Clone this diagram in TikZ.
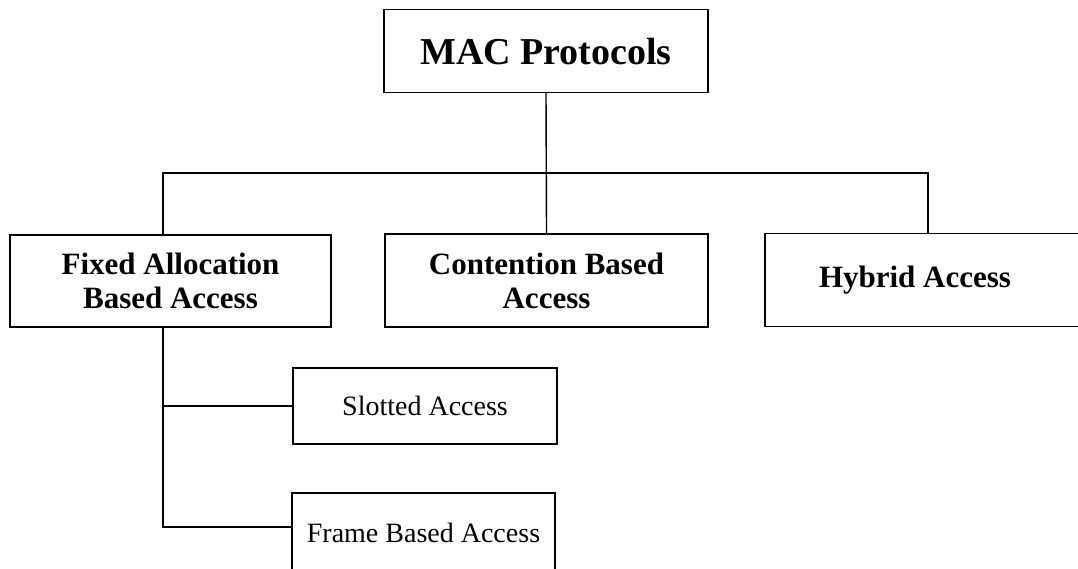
\documentclass[tikz,border=0pt]{standalone}
\usepackage{fontspec}
\setmainfont{Liberation Serif}
\begin{document}
\begin{tikzpicture}[x=1pt,y=-1pt,
  box/.style={draw=black, line width=1.4pt, inner sep=0pt, align=center},
  topbox/.style={box, font=\bfseries\fontsize{38}{42}\selectfont},
  midbox/.style={box, font=\bfseries\fontsize{31}{34}\selectfont},
  lowbox/.style={box, font=\fontsize{28}{32}\selectfont},
  link/.style={draw=black, line width=1.4pt}]
\useasboundingbox (0,0) rectangle (1078,568);
\clip (0,0) rectangle (1078,568);
\node[topbox, minimum width=324pt, minimum height=83pt] (mac) at (546,51) {MAC Protocols};
\node[midbox, minimum width=321pt, minimum height=92pt] (fixed) at (170.5,281) {Fixed Allocation\\Based Access};
\node[midbox, minimum width=323pt, minimum height=93pt] (cont) at (546.5,280.5) {Contention Based\\Access};
\node[midbox, minimum width=320pt, minimum height=93pt] (hyb) at (925,280) {\hspace*{-20pt}Hybrid Access};
\node[lowbox, minimum width=264pt, minimum height=76pt] (slot) at (425,406) {Slotted Access};
\node[lowbox, minimum width=263pt, minimum height=82pt, text depth=0pt] (frame) at (423.5,534) {\raisebox{3pt}{Frame Based Access}};
\coordinate (busL) at (163,173);
\coordinate (busR) at (928,173);
\coordinate (trunk) at (163,527);
\draw[link] (mac.south) -- (cont.north);
\draw[link] (fixed.north -| busL) -- (busL) -- (busR) -- (hyb.north -| busR);
\draw[link] (fixed.south -| trunk) -- (trunk) -- (trunk -| frame.west);
\draw[link] (slot.west -| trunk) -- (slot.west);
\end{tikzpicture}
\end{document}
